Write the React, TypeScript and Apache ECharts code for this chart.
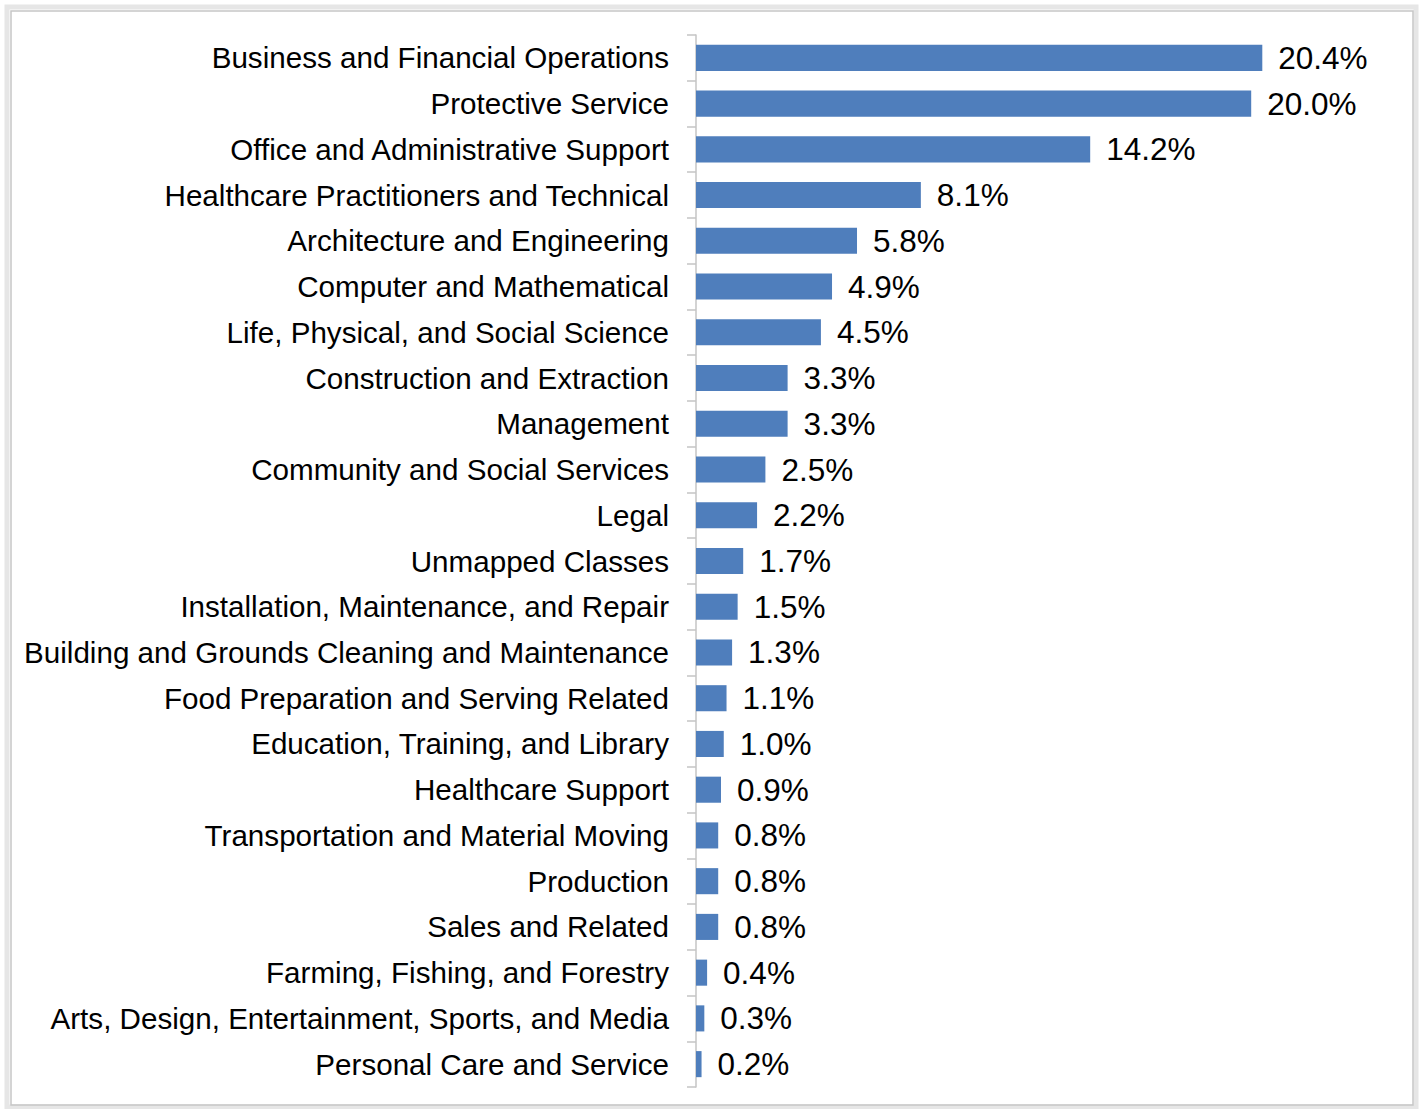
import React, { useEffect, useRef } from "react";
import * as echarts from "echarts";

const categories: string[] = [
  "Business and Financial Operations",
  "Protective Service",
  "Office and Administrative Support",
  "Healthcare Practitioners and Technical",
  "Architecture and Engineering",
  "Computer and Mathematical",
  "Life, Physical, and Social Science",
  "Construction and Extraction",
  "Management",
  "Community and Social Services",
  "Legal",
  "Unmapped Classes",
  "Installation, Maintenance, and Repair",
  "Building and Grounds Cleaning and Maintenance",
  "Food Preparation and Serving Related",
  "Education, Training, and Library",
  "Healthcare Support",
  "Transportation and Material Moving",
  "Production",
  "Sales and Related",
  "Farming, Fishing, and Forestry",
  "Arts, Design, Entertainment, Sports, and Media",
  "Personal Care and Service",
];

const shares: number[] = [
  20.4, 20.0, 14.2, 8.1, 5.8, 4.9, 4.5, 3.3, 3.3, 2.5, 2.2, 1.7, 1.5, 1.3, 1.1,
  1.0, 0.9, 0.8, 0.8, 0.8, 0.4, 0.3, 0.2,
];

const FONT = "'Liberation Sans', Arial, Helvetica, sans-serif";

export default function App() {
  const ref = useRef<HTMLDivElement>(null);

  useEffect(() => {
    document.body.style.margin = "0";
    if (!ref.current) return;
    const chart = echarts.init(ref.current, undefined, { renderer: "svg" });
    chart.setOption({
      animation: false,
      backgroundColor: "#ffffff",
      graphic: [
        {
          type: "rect",
          shape: { x: 7, y: 7, width: 1409, height: 1100 },
          style: { fill: "none", stroke: "#e6e6e6", lineWidth: 5 },
          silent: true,
        },
        {
          type: "rect",
          shape: { x: 11, y: 11, width: 1402, height: 1094 },
          style: { fill: "none", stroke: "#c6c6c6", lineWidth: 1.5 },
          silent: true,
        },
      ],
      grid: {
        left: 696,
        top: 35,
        width: 694,
        height: 1052,
        containLabel: false,
      },
      xAxis: {
        type: "value",
        min: 0,
        max: 25,
        show: false,
      },
      yAxis: {
        type: "category",
        data: categories,
        inverse: true,
        axisLine: { show: true, lineStyle: { color: "#c4c4c4", width: 1.5 } },
        axisTick: { show: true, length: 9, lineStyle: { color: "#c4c4c4", width: 1.5 } },
        axisLabel: {
          color: "#000000",
          fontSize: 29.6,
          fontFamily: FONT,
          margin: 27,
        },
        splitLine: { show: false },
      },
      series: [
        {
          type: "bar",
          data: shares,
          barWidth: "57%",
          itemStyle: { color: "#4F7EBC" },
          label: {
            show: true,
            position: "right",
            distance: 16,
            color: "#000000",
            fontSize: 31.5,
            fontFamily: FONT,
            formatter: (p: any) => `${Number(p.value).toFixed(1)}%`,
          },
        },
      ],
    });
    return () => chart.dispose();
  }, []);

  return <div ref={ref} style={{ width: 1422, height: 1109 }} />;
}
